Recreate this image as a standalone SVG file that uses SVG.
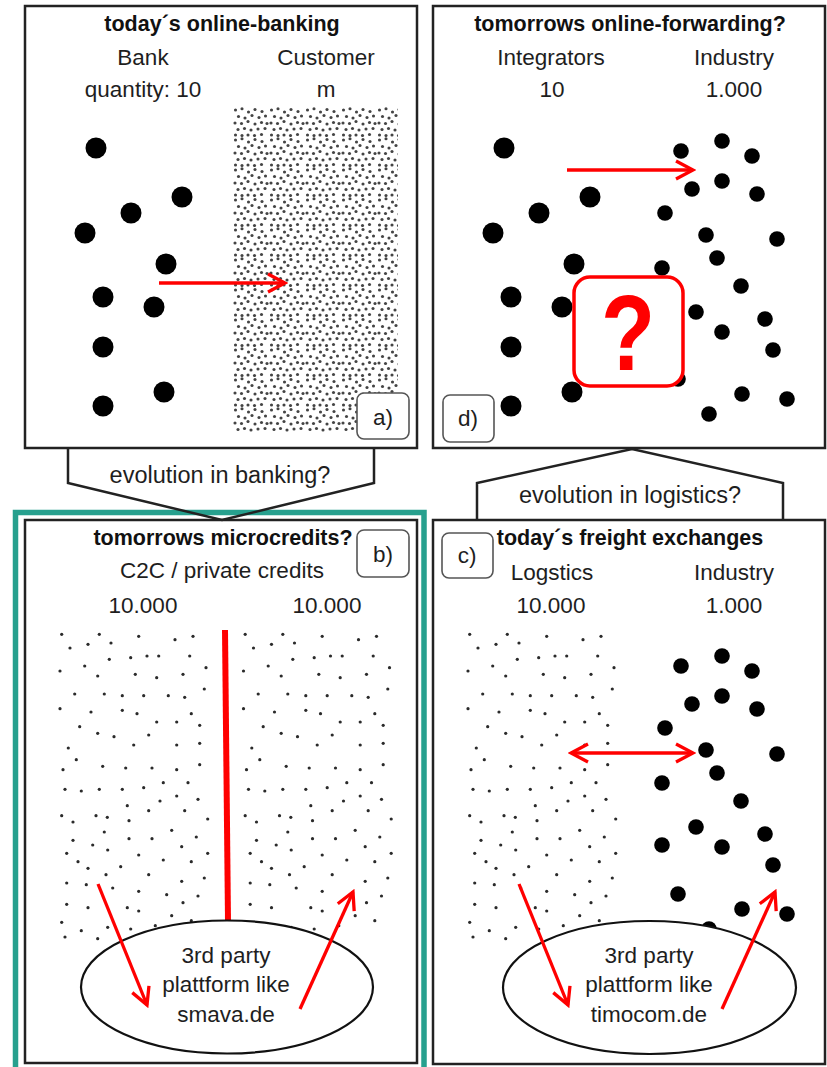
<svg xmlns="http://www.w3.org/2000/svg" xmlns:xlink="http://www.w3.org/1999/xlink" width="827" height="1067" viewBox="0 0 827 1067">
<style>
.frame{fill:#fff;stroke:#222;stroke-width:2.5}
.t{font-family:"Liberation Sans",Arial,sans-serif;font-size:22.5px;fill:#1e1e1e;text-anchor:middle}
.tb{font-weight:bold;font-size:21.5px;fill:#111}
.evt{font-size:23.5px}
.tag{fill:#fff;stroke:#555;stroke-width:1.6}
.red{stroke:#f00;stroke-width:3.3;fill:none}
.big{fill:#000}
.ell{fill:#fff;stroke:#111;stroke-width:2.2}
.evo{fill:none;stroke:#222;stroke-width:2.5;stroke-linejoin:miter}
.sm circle{fill:#2a2a2a}
</style>
<defs>
<marker id="ah" viewBox="0 0 22 22" refX="19" refY="11" markerWidth="22" markerHeight="22" markerUnits="userSpaceOnUse" orient="auto-start-reverse">
<path d="M2,2 L19,11 L2,20" fill="none" stroke="#f00" stroke-width="3.3"/>
</marker>
<pattern id="crowd" x="233" y="107" width="36" height="30" patternUnits="userSpaceOnUse">
<g fill="#444">
<circle cx="2.5" cy="3" r="1.55"/><circle cx="9" cy="1.8" r="1.55"/><circle cx="15.5" cy="5" r="1.55"/><circle cx="22" cy="2.5" r="1.55"/><circle cx="29" cy="4.5" r="1.55"/>
<circle cx="5.5" cy="9.5" r="1.55"/><circle cx="12" cy="11" r="1.55"/><circle cx="19" cy="8.5" r="1.55"/><circle cx="26" cy="10.5" r="1.55"/><circle cx="32.5" cy="9" r="1.55"/>
<circle cx="2" cy="16" r="1.55"/><circle cx="8.5" cy="16.5" r="1.55"/><circle cx="15" cy="14.5" r="1.55"/><circle cx="22" cy="17" r="1.55"/><circle cx="28.5" cy="15.5" r="1.55"/><circle cx="34" cy="16.5" r="1.55"/>
<circle cx="5" cy="22.5" r="1.55"/><circle cx="11.5" cy="21.5" r="1.55"/><circle cx="18" cy="23" r="1.55"/><circle cx="25" cy="22" r="1.55"/><circle cx="32" cy="21.5" r="1.55"/>
<circle cx="2.5" cy="28" r="1.55"/><circle cx="9" cy="28.5" r="1.55"/><circle cx="15" cy="28" r="1.55"/><circle cx="21.5" cy="28.5" r="1.55"/><circle cx="28.5" cy="27.5" r="1.55"/>
</g>
</pattern>
<g id="bank">
<circle cx="96" cy="148" r="10.5"/><circle cx="182" cy="197" r="10.5"/><circle cx="131" cy="213" r="10.5"/><circle cx="85" cy="233" r="10.5"/><circle cx="166" cy="264" r="10.5"/>
<circle cx="103" cy="297" r="10.5"/><circle cx="154" cy="307" r="10.5"/><circle cx="103" cy="347" r="10.5"/><circle cx="164" cy="392" r="10.5"/><circle cx="103" cy="406" r="10.5"/>
</g>
<g id="ind">
<circle cx="681" cy="151" r="7.8"/><circle cx="722" cy="141" r="7.8"/><circle cx="752" cy="156" r="7.8"/><circle cx="722" cy="181" r="7.8"/><circle cx="692" cy="189" r="7.8"/>
<circle cx="757" cy="194" r="7.8"/><circle cx="665" cy="213" r="7.8"/><circle cx="706" cy="235" r="7.8"/><circle cx="777" cy="239" r="7.8"/><circle cx="717" cy="258" r="7.8"/>
<circle cx="662" cy="268" r="7.8"/><circle cx="741" cy="286" r="7.8"/><circle cx="696" cy="312" r="7.8"/><circle cx="765" cy="319" r="7.8"/><circle cx="662" cy="330" r="7.8"/>
<circle cx="722" cy="332" r="7.8"/><circle cx="773" cy="350" r="7.8"/><circle cx="678" cy="379" r="7.8"/><circle cx="742" cy="394" r="7.8"/><circle cx="787" cy="399" r="7.8"/>
<circle cx="709" cy="414" r="7.8"/>
</g>
<g id="sparse" class="sm">
<circle cx="61.7" cy="34.3" r="1.6"/><circle cx="99.3" cy="34.3" r="1.6"/><circle cx="138.7" cy="36.3" r="1.6"/><circle cx="193" cy="36.3" r="1.6"/><circle cx="175" cy="39.7" r="1.6"/>
<circle cx="70" cy="48" r="1.6"/><circle cx="88" cy="44.3" r="1.6"/><circle cx="111" cy="43" r="1.6"/><circle cx="109.3" cy="59.3" r="1.6"/><circle cx="130.7" cy="57.7" r="1.6"/>
<circle cx="147" cy="56" r="1.6"/><circle cx="158.7" cy="56" r="1.6"/><circle cx="189.7" cy="56" r="1.6"/><circle cx="84.7" cy="66" r="1.6"/><circle cx="60" cy="71" r="1.6"/>
<circle cx="97.7" cy="76" r="1.6"/><circle cx="135.3" cy="74.3" r="1.6"/><circle cx="156.7" cy="77.7" r="1.6"/><circle cx="183" cy="74.3" r="1.6"/><circle cx="206" cy="67.7" r="1.6"/>
<circle cx="204.3" cy="89" r="1.6"/><circle cx="74.7" cy="94" r="1.6"/><circle cx="104.3" cy="94" r="1.6"/><circle cx="122.3" cy="95.7" r="1.6"/><circle cx="143.7" cy="95.7" r="1.6"/>
<circle cx="168.3" cy="95.7" r="1.6"/><circle cx="184.7" cy="97.3" r="1.6"/><circle cx="60" cy="108.7" r="1.6"/><circle cx="91" cy="112" r="1.6"/><circle cx="122.3" cy="110.3" r="1.6"/>
<circle cx="137" cy="113.7" r="1.6"/><circle cx="191.3" cy="113.7" r="1.6"/><circle cx="156.7" cy="122" r="1.6"/><circle cx="176.7" cy="122" r="1.6"/><circle cx="199.7" cy="125.3" r="1.6"/>
<circle cx="79.7" cy="126.7" r="1.6"/><circle cx="97.7" cy="133.3" r="1.6"/><circle cx="114" cy="136.7" r="1.6"/><circle cx="148.7" cy="135" r="1.6"/><circle cx="68.3" cy="148" r="1.6"/>
<circle cx="133.7" cy="145" r="1.6"/><circle cx="176.7" cy="145" r="1.6"/><circle cx="199.7" cy="143.3" r="1.6"/><circle cx="76.3" cy="159.7" r="1.6"/><circle cx="63" cy="169.7" r="1.6"/>
<circle cx="102.7" cy="166.3" r="1.6"/><circle cx="125.7" cy="168" r="1.6"/><circle cx="152" cy="168" r="1.6"/><circle cx="176.7" cy="169.7" r="1.6"/><circle cx="199.7" cy="164.7" r="1.6"/>
<circle cx="163.3" cy="182.7" r="1.6"/><circle cx="188" cy="182.7" r="1.6"/><circle cx="65" cy="189.3" r="1.6"/><circle cx="81.3" cy="191" r="1.6"/><circle cx="99.3" cy="189.3" r="1.6"/>
<circle cx="122.3" cy="189.3" r="1.6"/><circle cx="143.7" cy="187.7" r="1.6"/><circle cx="176.7" cy="196" r="1.6"/><circle cx="160" cy="201" r="1.6"/><circle cx="198" cy="199.3" r="1.6"/>
<circle cx="127.3" cy="205.7" r="1.6"/><circle cx="148.7" cy="210.7" r="1.6"/><circle cx="184.7" cy="210.7" r="1.6"/><circle cx="61.7" cy="215.7" r="1.6"/><circle cx="73" cy="222" r="1.6"/>
<circle cx="96" cy="215.7" r="1.6"/><circle cx="107.3" cy="217.3" r="1.6"/><circle cx="129" cy="220.7" r="1.6"/><circle cx="207.7" cy="219" r="1.6"/><circle cx="104.3" cy="232" r="1.6"/>
<circle cx="171.7" cy="230.3" r="1.6"/><circle cx="73" cy="240.3" r="1.6"/><circle cx="129" cy="238.7" r="1.6"/><circle cx="152" cy="238.7" r="1.6"/><circle cx="196.3" cy="237" r="1.6"/>
<circle cx="92.7" cy="245" r="1.6"/><circle cx="107.7" cy="250" r="1.6"/><circle cx="181.7" cy="246.7" r="1.6"/><circle cx="66.7" cy="253.3" r="1.6"/><circle cx="138.7" cy="255" r="1.6"/>
<circle cx="163.3" cy="260" r="1.6"/><circle cx="191.3" cy="261.7" r="1.6"/><circle cx="207.7" cy="253.3" r="1.6"/><circle cx="78" cy="261.7" r="1.6"/><circle cx="88" cy="268.3" r="1.6"/>
<circle cx="120.7" cy="266.7" r="1.6"/><circle cx="106" cy="274.7" r="1.6"/><circle cx="148.7" cy="274.7" r="1.6"/><circle cx="204.3" cy="278" r="1.6"/><circle cx="66.7" cy="283" r="1.6"/>
<circle cx="86.3" cy="284.7" r="1.6"/><circle cx="181.7" cy="281.3" r="1.6"/><circle cx="112.7" cy="288" r="1.6"/><circle cx="138.7" cy="291.3" r="1.6"/><circle cx="166.7" cy="294.7" r="1.6"/>
<circle cx="198" cy="296" r="1.6"/><circle cx="183" cy="302.7" r="1.6"/><circle cx="66.7" cy="304.3" r="1.6"/><circle cx="88" cy="307.7" r="1.6"/><circle cx="127.3" cy="307.7" r="1.6"/>
<circle cx="138.7" cy="311" r="1.6"/><circle cx="171.7" cy="315.7" r="1.6"/><circle cx="61.7" cy="322.3" r="1.6"/><circle cx="81.3" cy="330.7" r="1.6"/><circle cx="107.7" cy="327.3" r="1.6"/>
<circle cx="130.7" cy="329" r="1.6"/><circle cx="155.3" cy="325.7" r="1.6"/><circle cx="191.3" cy="320.7" r="1.6"/><circle cx="65" cy="337" r="1.6"/><circle cx="97.7" cy="338.7" r="1.6"/>
</g>
</defs>

<rect width="827" height="1067" fill="#fff"/>

<g id="panel-a">
<rect class="frame" x="25" y="6" width="392" height="442"/>
<text class="t tb" x="222" y="31">today´s online-banking</text>
<text class="t" x="143" y="65">Bank</text>
<text class="t" x="326" y="65">Customer</text>
<text class="t" x="143" y="97">quantity: 10</text>
<text class="t" x="326" y="97">m</text>
<use xlink:href="#bank" class="big"/>
<rect x="233" y="107" width="165" height="326" fill="url(#crowd)"/>
<line class="red" x1="159" y1="283" x2="285" y2="283" marker-end="url(#ah)"/>
<rect class="tag" x="357" y="393" width="52" height="46" rx="7"/>
<text class="t" x="383" y="425">a)</text>
</g>

<g id="panel-d">
<rect class="frame" x="433" y="6" width="392" height="442"/>
<text class="t tb" x="630" y="31">tomorrows online-forwarding?</text>
<text class="t" x="551" y="65">Integrators</text>
<text class="t" x="734" y="65">Industry</text>
<text class="t" x="552" y="97">10</text>
<text class="t" x="734" y="97">1.000</text>
<use xlink:href="#bank" x="408" class="big"/>
<use xlink:href="#ind" class="big"/>
<line class="red" x1="567" y1="170" x2="693" y2="170" marker-end="url(#ah)"/>
<rect x="574" y="277" width="109" height="109" rx="16" fill="#fff" stroke="#f00" stroke-width="3.5"/>
<text x="0" y="0" transform="translate(628,370) scale(0.82,1)" font-family="'Liberation Sans',Arial,sans-serif" font-weight="bold" font-size="108" fill="#f00" text-anchor="middle">?</text>
<rect class="tag" x="443" y="395" width="51" height="47" rx="7"/>
<text class="t" x="468" y="426">d)</text>
</g>

<g id="panel-b">
<rect class="frame" x="25" y="520" width="392" height="543"/>
<text class="t tb" x="223" y="545">tomorrows microcredits?</text>
<text class="t" x="222" y="578">C2C / private credits</text>
<text class="t" x="143" y="613">10.000</text>
<text class="t" x="327" y="613">10.000</text>
<use xlink:href="#sparse" x="0" y="600"/>
<use xlink:href="#sparse" x="183.5" y="600"/>
<line x1="225" y1="630" x2="228" y2="921" stroke="#f00" stroke-width="6"/>
<ellipse class="ell" cx="227" cy="987" rx="146" ry="66.5"/>
<text class="t" x="226" y="963">3rd party</text>
<text class="t" x="226" y="992">plattform like</text>
<text class="t" x="226" y="1022">smava.de</text>
<line class="red" x1="98" y1="884" x2="147" y2="1005" marker-end="url(#ah)"/>
<line class="red" x1="300" y1="1009" x2="353" y2="892" marker-end="url(#ah)"/>
<rect class="tag" x="357" y="530" width="52" height="47" rx="7"/>
<text class="t" x="383" y="562">b)</text>
</g>

<g id="panel-c">
<rect class="frame" x="433" y="520" width="392" height="544"/>
<text class="t tb" x="630" y="545">today´s freight exchanges</text>
<text class="t" x="552" y="580">Logstics</text>
<text class="t" x="734" y="580">Industry</text>
<text class="t" x="551" y="613">10.000</text>
<text class="t" x="734" y="613">1.000</text>
<use xlink:href="#sparse" x="408" y="600"/>
<use xlink:href="#ind" y="515" class="big"/>
<line class="red" x1="571" y1="753" x2="693" y2="753" marker-start="url(#ah)" marker-end="url(#ah)"/>
<ellipse class="ell" cx="649.5" cy="987.5" rx="146.5" ry="66.5"/>
<text class="t" x="649" y="963">3rd party</text>
<text class="t" x="649" y="992">plattform like</text>
<text class="t" x="649" y="1022">timocom.de</text>
<line class="red" x1="519" y1="884" x2="568" y2="1005" marker-end="url(#ah)"/>
<line class="red" x1="722" y1="1009" x2="775" y2="892" marker-end="url(#ah)"/>
<rect class="tag" x="442" y="533" width="51" height="45" rx="7"/>
<text class="t" x="467" y="563">c)</text>
</g>

<rect id="highlight" x="15.5" y="512.5" width="408.5" height="570" fill="none" stroke="#27a08e" stroke-width="5.5"/>

<g id="connectors">
<g id="evolution-banking">
<polyline class="evo" points="68,448 68,483 222,520 374,483 374,448"/>
<text class="t evt" x="220" y="483">evolution in banking?</text>
</g>
<g id="evolution-logistics">
<polyline class="evo" points="477,520 477,483 632,449 783,483 783,520"/>
<text class="t evt" x="630" y="503">evolution in logistics?</text>
</g>
</g>
</svg>
